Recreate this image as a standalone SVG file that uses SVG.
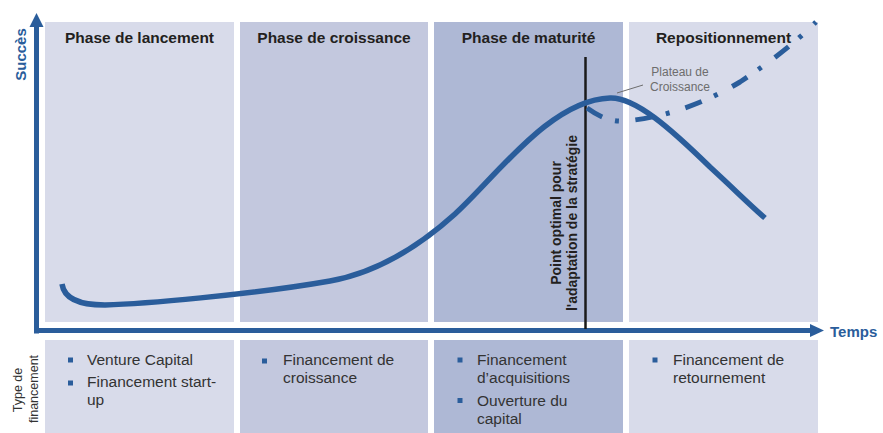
<svg xmlns="http://www.w3.org/2000/svg" width="883" height="433" viewBox="0 0 883 433">
  <style>
    .p1 { fill: #d8dbea; }
    .p2 { fill: #c3c8de; }
    .p3 { fill: #aeb8d5; }
    .title { font-family: "Liberation Sans", Arial, sans-serif; font-weight: bold; font-size: 15.5px; fill: #231f20; text-anchor: middle; }
    .item { font-family: "Liberation Sans", Arial, sans-serif; font-size: 15.5px; fill: #333333; }
    .axis-label { font-family: "Liberation Sans", Arial, sans-serif; font-weight: bold; font-size: 15px; fill: #2a5d9b; }
    .bullet { fill: #2a5d9b; }
    .note { font-family: "Liberation Sans", Arial, sans-serif; font-size: 12px; fill: #6d6d6d; text-anchor: middle; }
    .vlabel { font-family: "Liberation Sans", Arial, sans-serif; font-weight: bold; font-size: 14px; fill: #231f20; text-anchor: middle; }
    .side { font-family: "Liberation Sans", Arial, sans-serif; font-size: 12.5px; fill: #333333; text-anchor: middle; }
    .curve { fill: none; stroke: #2a5d9b; stroke-width: 5.5; }
    .reposition { fill: none; stroke: #2a5d9b; stroke-width: 5; stroke-dasharray: 17.5 13.5 4 16.5; }
  </style>

  <rect width="883" height="433" fill="#ffffff"/>

  <!-- phase columns -->
  <g id="phase-lancement">
    <rect class="p1" x="45" y="22" width="189" height="300"/>
    <text class="title" x="139.5" y="43">Phase de lancement</text>
  </g>
  <g id="phase-croissance">
    <rect class="p2" x="240" y="22" width="188" height="300"/>
    <text class="title" x="334" y="43">Phase de croissance</text>
  </g>
  <g id="phase-maturite">
    <rect class="p3" x="434" y="22" width="189" height="300"/>
    <text class="title" x="528.5" y="43">Phase de maturité</text>
  </g>
  <g id="repositionnement">
    <rect class="p1" x="629" y="22" width="189" height="300"/>
    <text class="title" x="723.5" y="43">Repositionnement</text>
  </g>

  <!-- financing rows -->
  <g id="financement-lancement">
    <rect class="p1" x="45" y="340" width="189" height="93"/>
    <rect class="bullet" x="68" y="357.5" width="5" height="5"/>
    <text class="item" x="87" y="365">Venture Capital</text>
    <rect class="bullet" x="68" y="380.5" width="5" height="5"/>
    <text class="item" x="87" y="387">Financement start-</text>
    <text class="item" x="87" y="405">up</text>
  </g>
  <g id="financement-croissance">
    <rect class="p2" x="240" y="340" width="188" height="93"/>
    <rect class="bullet" x="262" y="358.5" width="5" height="5"/>
    <text class="item" x="283" y="365">Financement de</text>
    <text class="item" x="283" y="383">croissance</text>
  </g>
  <g id="financement-maturite">
    <rect class="p3" x="434" y="340" width="189" height="93"/>
    <rect class="bullet" x="457.5" y="357.5" width="5" height="5"/>
    <text class="item" x="477" y="365">Financement</text>
    <text class="item" x="477" y="383">d’acquisitions</text>
    <rect class="bullet" x="457.5" y="398" width="5" height="5"/>
    <text class="item" x="477" y="406">Ouverture du</text>
    <text class="item" x="477" y="424">capital</text>
  </g>
  <g id="financement-repositionnement">
    <rect class="p1" x="629" y="340" width="189" height="93"/>
    <rect class="bullet" x="652.5" y="357.5" width="5" height="5"/>
    <text class="item" x="673" y="365">Financement de</text>
    <text class="item" x="673" y="383">retournement</text>
  </g>

  <g id="type-financement">
    <text class="side" transform="translate(21.5 390) rotate(-90)">Type de</text>
    <text class="side" transform="translate(37.5 389) rotate(-90)">financement</text>
  </g>

  <!-- axes -->
  <g id="axes">
    <rect x="34" y="26" width="5" height="307.5" fill="#2a5d9b"/>
    <polygon points="36.5,13 43.5,27 29.5,27" fill="#2a5d9b"/>
    <rect x="34" y="328" width="777" height="5" fill="#2a5d9b"/>
    <polygon points="824,330.5 810,324 810,337" fill="#2a5d9b"/>
    <text class="axis-label" transform="translate(26 54.5) rotate(-90)" text-anchor="middle">Succès</text>
    <text class="axis-label" x="830" y="337">Temps</text>
  </g>

  <!-- strategic turning point marker -->
  <g id="point-optimal">
    <line x1="585.5" y1="57" x2="585.5" y2="329" stroke="#1a1a1a" stroke-width="2.5"/>
    <text class="vlabel" transform="translate(560.5 223) rotate(-90)">Point optimal pour</text>
    <text class="vlabel" transform="translate(576.5 223) rotate(-90)">l'adaptation de la stratégie</text>
  </g>

  <!-- connectors: life-cycle curve and repositioning path -->
  <g id="connectors">
    <path class="curve" d="M62,284 C64,298 78,305 105,305 C140,304 250,295 330,281 C375,273 415,250 455,214 C495,178 550,100 610,98 C635,97 670,128 710,167 C735,190 750,205 765,218"/>
    <path class="reposition" d="M587,108 C601,118 612,122 625,121 C660,118 700,106 740,82 C770,62 795,43 816,22"/>
  </g>

  <g id="plateau-label">
    <line x1="617" y1="93" x2="643" y2="85" stroke="#6d6d6d" stroke-width="1"/>
    <text class="note" x="680" y="76">Plateau de</text>
    <text class="note" x="680" y="91">Croissance</text>
  </g>
</svg>
